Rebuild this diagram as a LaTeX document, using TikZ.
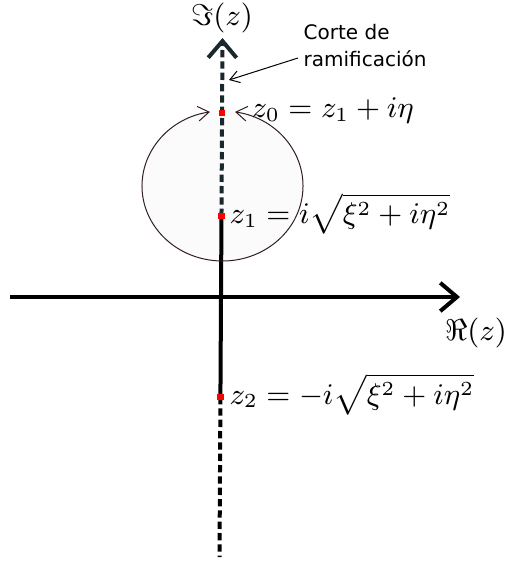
\documentclass[tikz,border=0pt]{standalone}
\usepackage{fontspec}
\newfontfamily\dejavu{DejaVu Sans}
\usetikzlibrary{arrows.meta}
\definecolor{cutdark}{RGB}{25,40,45}
\definecolor{loopcol}{RGB}{50,30,30}
\begin{document}
\begin{tikzpicture}[x=0.3pt,y=-0.3pt,
  axis/.style={line width=1.2pt},
  axtip/.style={-{Straight Barb[length=5pt,width=8.5pt]}},
  cutline/.style={line width=1.2pt,dash pattern=on 2.2pt off 1.2pt},
  pt/.style={rectangle,fill=red,minimum size=2pt,inner sep=0pt},
  mathfont/.style={font=\fontsize{9.1}{11}\selectfont},
  lab/.style={mathfont,anchor=base west,inner sep=0pt},
  thinarrow/.style={line width=0.3pt,-{Straight Barb[length=2.8pt,width=3.6pt]}},
  looptip/.style={{Straight Barb[length=3.3pt,width=4.4pt]}-{Straight Barb[length=3.3pt,width=4.4pt]}}]
\useasboundingbox (0,0) rectangle (506,562);
% loop fill
\fill[gray!3] (222.5,186) ellipse [x radius=80.5, y radius=75];
% coordinates
\coordinate (ytop) at (222.5,38);
\coordinate (ybot) at (219.5,557);
\coordinate (xl) at (10,297);
\coordinate (xr) at (460,297);
\node[pt] (z0) at (222.07,113) {};
\node[pt] (z1) at (221.47,216) {};
\node[pt] (z2) at (220.42,397) {};
% axes
\draw[axis,axtip] (xl) -- (xr);
\draw[cutline,cutdark,axtip] (z1.center) -- (ytop);
\draw[axis] (z1.center) -- (z2.center);
\draw[cutline] (z2.center) -- (ybot);
% loop
\draw[loopcol,line width=0.3pt,looptip] ([shift={(-81:80.5 and 75)}]222.5,186) arc[start angle=-81,end angle=261,x radius=80.5,y radius=75];
% points on top
\node[pt] at (z0) {};
\node[pt] at (z1) {};
\node[pt] at (z2) {};
% labels
\node[lab] (lz0) at (251,118) {$z_0=z_1+i\eta$};
\node[lab] (lz1) at (229,224) {$z_1=i\sqrt{\xi^2+i\eta^2}$};
\node[lab] (lz2) at (229,404) {$z_2=-i\sqrt{\xi^2+i\eta^2}$};
\node[mathfont] (im) at (222,18) {$\Im(z)$};
\node[mathfont] (re) at (476,333) {$\Re(z)$};
\node[anchor=north west,inner sep=0pt,align=left,font=\dejavu\fontsize{6}{8.1}\selectfont] (corte) at (303,24) {Corte de\\ramificación};
\coordinate (ca) at (298,58);
\coordinate (cb) at (229,80);
\draw[thinarrow] (ca) -- (cb);
\end{tikzpicture}
\end{document}
